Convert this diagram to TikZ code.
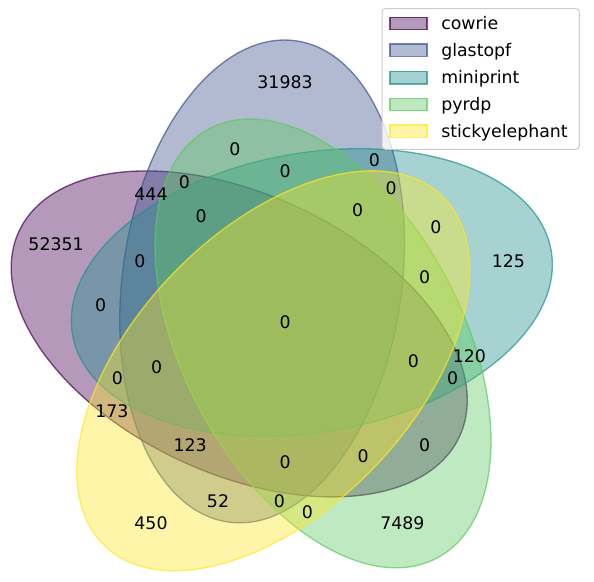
\documentclass[tikz,border=0pt]{standalone}
\usepackage{fontspec}
\setmainfont{DejaVu Sans}
\definecolor{c1}{RGB}{68,1,84}
\definecolor{c2}{RGB}{59,82,139}
\definecolor{c3}{RGB}{33,145,140}
\definecolor{c4}{RGB}{94,201,98}
\definecolor{c5}{RGB}{253,231,37}
\tikzset{
  vennset/.style={fill=#1, draw=#1, fill opacity=0.4, draw opacity=0.7, line width=1pt},
  num/.style={inner sep=0pt, font=\fontsize{13pt}{15pt}\selectfont},
  legtext/.style={inner sep=0pt, anchor=base west, font=\fontsize{13pt}{15pt}\selectfont},
}
\begin{document}
\begin{tikzpicture}[x=418.875pt, y=418.875pt]
\useasboundingbox (-0.000358,0.006625) rectangle (1.063205,1.046911);
% ellipses
\draw[vennset=c1, rotate around={155:(.428,.449)}] (.428,.449) ellipse [x radius=.435, y radius=.25];
\draw[vennset=c2, rotate around={82:(.469,.543)}] (.469,.543) ellipse [x radius=.435, y radius=.25];
\draw[vennset=c3, rotate around={10:(.558,.523)}] (.558,.523) ellipse [x radius=.435, y radius=.25];
\draw[vennset=c4, rotate around={118:(.578,.432)}] (.578,.432) ellipse [x radius=.435, y radius=.25];
\draw[vennset=c5, rotate around={46:(.489,.383)}] (.489,.383) ellipse [x radius=.435, y radius=.25];
% region labels
\node[num] (r00001) at (.27,.11) {450};
\node[num] (r00010) at (.72,.11) {7489};
\node[num] (r00011) at (.55,.13) {0};
\node[num] (r00100) at (.91,.58) {125};
\node[num] (r00101) at (.78,.64) {0};
\node[num] (r00110) at (.84,.41) {120};
\node[num] (r00111) at (.76,.55) {0};
\node[num] (r01000) at (.51,.90) {31983};
\node[num] (r01001) at (.39,.15) {52};
\node[num] (r01010) at (.42,.78) {0};
\node[num] (r01011) at (.50,.15) {0};
\node[num] (r01100) at (.67,.76) {0};
\node[num] (r01101) at (.70,.71) {0};
\node[num] (r01110) at (.51,.74) {0};
\node[num] (r01111) at (.64,.67) {0};
\node[num] (r10000) at (.10,.61) {52351};
\node[num] (r10001) at (.20,.31) {173};
\node[num] (r10010) at (.76,.25) {0};
\node[num] (r10011) at (.65,.23) {0};
\node[num] (r10100) at (.18,.50) {0};
\node[num] (r10101) at (.21,.37) {0};
\node[num] (r10110) at (.81,.37) {0};
\node[num] (r10111) at (.74,.40) {0};
\node[num] (r11000) at (.27,.70) {444};
\node[num] (r11001) at (.34,.25) {123};
\node[num] (r11010) at (.33,.72) {0};
\node[num] (r11011) at (.51,.22) {0};
\node[num] (r11100) at (.25,.58) {0};
\node[num] (r11101) at (.28,.39) {0};
\node[num] (r11110) at (.36,.66) {0};
\node[num] (r11111) at (.51,.47) {0};
% legend (pixel coordinates, origin top-left)
\begin{scope}[shift={(-0.000358,1.046911)}, x=0.75pt, y=-0.75pt]
\draw[draw=black!20, fill=white, fill opacity=0.8, line width=0.75pt, rounded corners=2.5pt] (382,8.7) rectangle (579.3,149.3);
\draw[vennset=c1] (390,17.3) rectangle (427,29.7);
\draw[vennset=c2] (390,44.1) rectangle (427,56.5);
\draw[vennset=c3] (390,71.5) rectangle (427,83.9);
\draw[vennset=c4] (390,98.3) rectangle (427,110.7);
\draw[vennset=c5] (390,125.1) rectangle (427,137.5);
\node[legtext] (l1) at (441,29.7) {cowrie};
\node[legtext] (l2) at (441,56.5) {glastopf};
\node[legtext] (l3) at (441,83.9) {miniprint};
\node[legtext] (l4) at (441,110.7) {pyrdp};
\node[legtext] (l5) at (441,137.5) {stickyelephant};
\end{scope}
\end{tikzpicture}
\end{document}
